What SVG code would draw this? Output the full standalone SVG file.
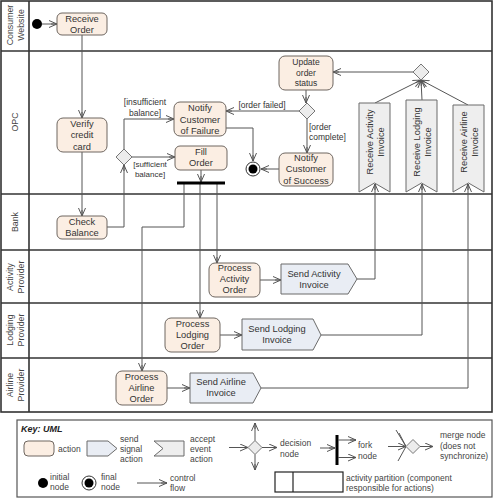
<svg xmlns="http://www.w3.org/2000/svg" width="495" height="499" viewBox="0 0 495 499">
<defs>
<marker id="arr" markerWidth="10" markerHeight="8" refX="8" refY="4" orient="auto" markerUnits="userSpaceOnUse">
<path d="M0,0.5 L8,4 L0,7.5 M8,4 L2,4" fill="none" stroke="#555" stroke-width="1"/>
</marker>
</defs>
<style>
text{font-family:"Liberation Sans",Arial,sans-serif;fill:#333;}
.t{font-size:9.3px;text-anchor:middle;}
.ts{font-size:8.5px;text-anchor:middle;}
.g{font-size:8.5px;}
.k{font-size:8.5px;fill:#444;}
.lane{font-size:8.8px;text-anchor:middle;fill:#444;}
.act{fill:#fbeee3;stroke:#6e6660;stroke-width:1;}
.sig{fill:#e9edf4;stroke:#6b6b6b;stroke-width:1;}
.acc{fill:#eeeeee;stroke:#6b6b6b;stroke-width:1;}
.dia{fill:#ececec;stroke:#777;stroke-width:1;}
.ln{fill:none;stroke:#555;stroke-width:1;}
.fl{fill:none;stroke:#555;stroke-width:1;marker-end:url(#arr);}
.bd{fill:none;stroke:#333;stroke-width:1.6;}
</style>
<rect width="495" height="499" fill="#fff"/>
<g id="lanes">
<rect class="bd" x="1" y="1" width="491" height="411"/>
<line class="bd" x1="29" y1="1" x2="29" y2="412"/>
<line class="bd" x1="1" y1="51" x2="492" y2="51"/>
<line class="bd" x1="1" y1="194" x2="492" y2="194"/>
<line class="bd" x1="1" y1="250" x2="492" y2="250"/>
<line class="bd" x1="1" y1="303" x2="492" y2="303"/>
<line class="bd" x1="1" y1="358" x2="492" y2="358"/>
<text class="lane" transform="translate(15,25) rotate(-90)"><tspan x="0" y="-2.5">Consumer</tspan><tspan x="0" y="8.5">Website</tspan></text>
<text class="lane" transform="translate(15,122) rotate(-90)"><tspan x="0" y="3">OPC</tspan></text>
<text class="lane" transform="translate(15,222) rotate(-90)"><tspan x="0" y="3">Bank</tspan></text>
<text class="lane" transform="translate(15,277) rotate(-90)"><tspan x="0" y="-2.5">Activity</tspan><tspan x="0" y="8.5">Provider</tspan></text>
<text class="lane" transform="translate(15,330) rotate(-90)"><tspan x="0" y="-2.5">Lodging</tspan><tspan x="0" y="8.5">Provider</tspan></text>
<text class="lane" transform="translate(15,385) rotate(-90)"><tspan x="0" y="-2.5">Airline</tspan><tspan x="0" y="8.5">Provider</tspan></text>
</g>
<g id="connectors">
<line class="fl" x1="42" y1="24" x2="57" y2="24"/>
<line class="fl" x1="82" y1="35" x2="82" y2="118"/>
<line class="fl" x1="82" y1="152" x2="82" y2="216"/>
<polyline class="fl" points="107,227 124,227 124,165"/>
<polyline class="fl" points="124,149 124,119 174,119"/>
<line class="fl" x1="132" y1="157" x2="175" y2="157"/>
<line class="fl" x1="201" y1="170" x2="201" y2="182"/>
<polyline class="fl" points="184,184 184,227 142,227 142,371"/>
<line class="fl" x1="200" y1="184" x2="200" y2="318"/>
<line class="fl" x1="217" y1="184" x2="217" y2="263"/>
<line class="fl" x1="260" y1="280" x2="281" y2="280"/>
<line class="fl" x1="220" y1="335" x2="242" y2="335"/>
<line class="fl" x1="167" y1="388" x2="190" y2="388"/>
<polyline class="fl" points="357,279 375,279 375,184"/>
<polyline class="fl" points="321,335 422,335 422,184"/>
<polyline class="fl" points="261,388 468,388 468,184"/>
<line class="fl" x1="375" y1="103" x2="421" y2="80"/>
<line class="fl" x1="422" y1="100" x2="421" y2="80"/>
<line class="fl" x1="468" y1="105" x2="421" y2="80"/>
<line class="fl" x1="413" y1="72" x2="333" y2="72"/>
<line class="fl" x1="306" y1="90" x2="306" y2="103"/>
<line class="fl" x1="299" y1="111" x2="226" y2="111"/>
<line class="fl" x1="307" y1="119" x2="307" y2="153"/>
<polyline class="fl" points="226,128 253,128 253,161"/>
<line class="fl" x1="279" y1="169" x2="261" y2="169"/>
<text class="g" x="145" y="104.5" text-anchor="middle">[insufficient</text>
<text class="g" x="145" y="116" text-anchor="middle">balance]</text>
<text class="g" x="150" y="167" text-anchor="middle" style="font-size:8px">[sufficient</text>
<text class="g" x="150" y="177" text-anchor="middle" style="font-size:8px">balance]</text>
<text class="g" x="262" y="108" text-anchor="middle">[order failed]</text>
<text class="g" x="309" y="129.5">[order</text>
<text class="g" x="309" y="139.5">complete]</text>
</g>
<g id="initial"><circle cx="37" cy="24" r="5" fill="#000"/></g>
<g id="receive-order"><rect class="act" x="57" y="13" width="50" height="22" rx="5"/><text class="t"><tspan x="82" y="21.5">Receive</tspan><tspan x="82" y="32.5">Order</tspan></text></g>
<g id="verify"><rect class="act" x="57" y="118" width="50" height="34" rx="6"/><text class="t"><tspan x="82" y="126.5">Verify</tspan><tspan x="82" y="138">credit</tspan><tspan x="82" y="149.5">card</tspan></text></g>
<g id="check-balance"><rect class="act" x="57" y="216" width="50" height="23" rx="5"/><text class="t"><tspan x="82" y="224.5">Check</tspan><tspan x="82" y="235.5">Balance</tspan></text></g>
<g id="decision-balance"><polygon class="dia" points="124,149 132,157 124,165 116,157"/></g>
<g id="notify-failure"><rect class="act" x="174" y="102" width="52" height="34" rx="6"/><text class="t"><tspan x="200" y="111">Notify</tspan><tspan x="200" y="122.5">Customer</tspan><tspan x="200" y="133.5">of Failure</tspan></text></g>
<g id="fill-order"><rect class="act" x="175" y="146" width="52" height="24" rx="5"/><text class="t"><tspan x="201" y="155">Fill</tspan><tspan x="201" y="166">Order</tspan></text></g>
<g id="fork"><rect x="177" y="181.5" width="48" height="3" fill="#000"/></g>
<g id="update-status"><rect class="act" x="279" y="56" width="54" height="34" rx="6"/><text class="ts"><tspan x="306" y="65">Update</tspan><tspan x="306" y="75.5">order</tspan><tspan x="306" y="85.5">status</tspan></text></g>
<g id="decision-order"><polygon class="dia" points="307,103 315,111 307,119 299,111"/></g>
<g id="notify-success"><rect class="act" x="279" y="153" width="54" height="33" rx="6"/><text class="t"><tspan x="306" y="160.5">Notify</tspan><tspan x="306" y="172">Customer</tspan><tspan x="306" y="183.5">of Success</tspan></text></g>
<g id="final"><circle cx="253" cy="169" r="7" fill="#fff" stroke="#333" stroke-width="1"/><circle cx="253" cy="169" r="4.5" fill="#000"/></g>
<g id="merge"><polygon class="dia" points="421,64 429,72 421,80 413,72"/></g>
<g id="receive-activity"><polygon class="acc" points="359,103 390,103 390,192 374.5,183 359,192"/><text class="t" transform="translate(374.5,142) rotate(-90)"><tspan x="0" y="-2">Receive Activity</tspan><tspan x="0" y="9.5">Invoice</tspan></text></g>
<g id="receive-lodging"><polygon class="acc" points="406,100 437,100 437,192 421.5,183 406,192"/><text class="t" transform="translate(421.5,142) rotate(-90)"><tspan x="0" y="-2">Receive Lodging</tspan><tspan x="0" y="9.5">Invoice</tspan></text></g>
<g id="receive-airline"><polygon class="acc" points="453,105 484,105 484,192 468.5,183 453,192"/><text class="t" transform="translate(468.5,142) rotate(-90)"><tspan x="0" y="-2">Receive Airline</tspan><tspan x="0" y="9.5">Invoice</tspan></text></g>
<g id="process-activity"><rect class="act" x="209" y="263" width="51" height="34" rx="6"/><text class="t"><tspan x="234.5" y="271">Process</tspan><tspan x="234.5" y="282">Activity</tspan><tspan x="234.5" y="293">Order</tspan></text></g>
<g id="send-activity"><polygon class="sig" points="281,264 348,264 357,279 348,294 281,294"/><text class="t"><tspan x="314" y="276.5">Send Activity</tspan><tspan x="314" y="287.5">Invoice</tspan></text></g>
<g id="process-lodging"><rect class="act" x="165" y="318" width="55" height="34" rx="6"/><text class="t"><tspan x="192.5" y="326.5">Process</tspan><tspan x="192.5" y="337.5">Lodging</tspan><tspan x="192.5" y="348.5">Order</tspan></text></g>
<g id="send-lodging"><polygon class="sig" points="242,319 313,319 321,335 313,350 242,350"/><text class="t"><tspan x="277" y="331.5">Send Lodging</tspan><tspan x="277" y="343">Invoice</tspan></text></g>
<g id="process-airline"><rect class="act" x="116" y="371" width="51" height="34" rx="6"/><text class="t"><tspan x="141.5" y="379.5">Process</tspan><tspan x="141.5" y="390.5">Airline</tspan><tspan x="141.5" y="402">Order</tspan></text></g>
<g id="send-airline"><polygon class="sig" points="190,373 253,373 261,388 253,403 190,403"/><text class="t"><tspan x="221" y="385">Send Airline</tspan><tspan x="221" y="396">Invoice</tspan></text></g>
<g id="key">
<rect x="17" y="420" width="475" height="77" fill="#fff" stroke="#555" stroke-width="1.2"/>
<text x="21" y="432" style="font-size:9px;font-weight:bold;font-style:italic;fill:#222">Key: UML</text>
<rect class="act" x="24" y="441" width="30" height="15" rx="4"/>
<text class="k" x="58" y="452">action</text>
<polygon class="sig" points="87,441 108,441 117,448.5 108,456 87,456"/>
<text class="k"><tspan x="120" y="442">send</tspan><tspan x="120" y="452">signal</tspan><tspan x="120" y="462">action</tspan></text>
<polygon class="acc" points="154,441 184,441 184,456 154,456 163,448.5"/>
<text class="k"><tspan x="190" y="442">accept</tspan><tspan x="190" y="452">event</tspan><tspan x="190" y="462">action</tspan></text>
<line class="fl" x1="229" y1="447.5" x2="248" y2="447.5"/>
<polygon class="dia" points="255,440.5 262,447.5 255,454.5 248,447.5"/>
<line class="fl" x1="255" y1="440.5" x2="255" y2="423"/>
<line class="fl" x1="255" y1="454.5" x2="255" y2="470"/>
<line class="fl" x1="262" y1="447.5" x2="277" y2="447.5"/>
<text class="k"><tspan x="280" y="446">decision</tspan><tspan x="280" y="456.5">node</tspan></text>
<line class="fl" x1="320" y1="448" x2="335" y2="448"/>
<rect x="335.5" y="435" width="3" height="30" fill="#000"/>
<line class="fl" x1="338" y1="440" x2="356" y2="440"/>
<line class="fl" x1="338" y1="457.5" x2="356" y2="457.5"/>
<text class="k"><tspan x="358" y="448">fork</tspan><tspan x="358" y="458.5">node</tspan></text>
<line class="fl" x1="388" y1="446.5" x2="406" y2="446.5"/>
<line class="ln" x1="396" y1="430" x2="406" y2="446.5"/>
<line class="ln" x1="399" y1="433" x2="406" y2="446.5"/>
<line class="ln" x1="398" y1="461" x2="406" y2="446.5"/>
<polygon class="dia" points="413,439.5 420,446.5 413,453.5 406,446.5"/>
<line class="fl" x1="420" y1="446.5" x2="433" y2="446.5"/>
<text class="k"><tspan x="440" y="438">merge node</tspan><tspan x="440" y="448.5">(does not</tspan><tspan x="440" y="459">synchronize)</tspan></text>
<rect x="275" y="472" width="68" height="20" fill="#fff" stroke="#222" stroke-width="1.2"/>
<line x1="293" y1="472" x2="293" y2="492" stroke="#222" stroke-width="1.2"/>
<text class="k"><tspan x="346" y="481">activity partition (component</tspan><tspan x="346" y="491">responsible for actions)</tspan></text>
<circle cx="43" cy="483" r="5" fill="#000"/>
<text class="k"><tspan x="50" y="480">initial</tspan><tspan x="50" y="490">node</tspan></text>
<circle cx="89" cy="483" r="7" fill="#fff" stroke="#333" stroke-width="1"/>
<circle cx="89" cy="483" r="4.5" fill="#000"/>
<text class="k"><tspan x="101" y="480">final</tspan><tspan x="101" y="490">node</tspan></text>
<line class="fl" x1="137" y1="483" x2="167" y2="483"/>
<text class="k"><tspan x="170" y="481">control</tspan><tspan x="170" y="491">flow</tspan></text>
</g>
</svg>
